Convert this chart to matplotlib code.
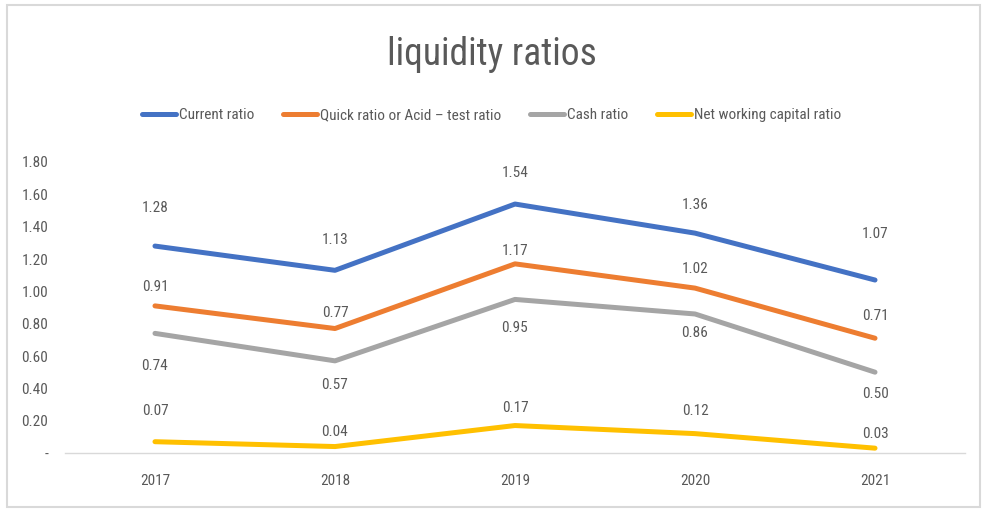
"""
Liquidity ratios line chart, Excel style.
"""

import matplotlib.pyplot as plt
from matplotlib.patches import Rectangle

plt.rcParams["font.family"] = [
    "Liberation Sans Narrow",
    "Roboto Condensed",
    "DejaVu Sans",
]

years = ["2017", "2018", "2019", "2020", "2021"]
current_ratio = [1.28, 1.13, 1.54, 1.36, 1.07]
quick_ratio = [0.91, 0.77, 1.17, 1.02, 0.71]
cash_ratio = [0.74, 0.57, 0.95, 0.86, 0.50]
nwc_ratio = [0.07, 0.04, 0.17, 0.12, 0.03]

# data label offsets in pixels (Excel labels were nudged by hand)
current_offsets = [38, 30, 31, 28, 46]
quick_offsets = [19, 16, 13, 19, 22]
cash_offsets = [-33, -24, -29, -19, -22]
nwc_offsets = [31, 15, 18, 23, 14]

series = [
    ("Current ratio", current_ratio, "#4472C4", current_offsets),
    ("Quick ratio or Acid \u2013 test ratio", quick_ratio, "#ED7D31",
     quick_offsets),
    ("Cash ratio", cash_ratio, "#A5A5A5", cash_offsets),
    ("Net working capital ratio", nwc_ratio, "#FFC000", nwc_offsets),
]

y_ticks = [0.0, 0.2, 0.4, 0.6, 0.8, 1.0, 1.2, 1.4, 1.6, 1.8]

TEXT_COLOR = "#595959"

fig = plt.figure(figsize=(9.83, 5.12), dpi=100)
ax = fig.add_axes([0.0661, 0.1152, 0.9156, 0.5684])

x = list(range(len(years)))

for name, values, color, offsets in series:
    ax.plot(x, values, color=color, linewidth=3.6, label=name,
            solid_capstyle="round", clip_on=False)
    for xi, v, off in zip(x, values, offsets):
        ax.annotate(f"{v:.2f}", (xi, v), xytext=(0, off),
                    textcoords="offset pixels", ha="center", va="center",
                    fontsize=11, color=TEXT_COLOR)

ax.set_xlim(-0.5, len(years) - 0.5)
ax.set_ylim(0, 1.8)
ax.set_xticks(x)
ax.set_xticklabels(years)
ax.set_yticks(y_ticks)
ax.set_yticklabels(["-" if t == 0 else f"{t:.2f}" for t in y_ticks])
ax.tick_params(axis="both", length=0, labelsize=11, labelcolor=TEXT_COLOR)
ax.tick_params(axis="y", pad=12)
ax.tick_params(axis="x", pad=15)

for side in ["top", "right", "left"]:
    ax.spines[side].set_visible(False)
ax.spines["bottom"].set_color("#D9D9D9")
ax.spines["bottom"].set_linewidth(1)

fig.text(0.5, 0.893, "liquidity ratios", ha="center", va="center",
         fontsize=27, color=TEXT_COLOR)

fig.legend(loc="center", bbox_to_anchor=(0.5, 0.775), ncol=4, frameon=False,
           fontsize=11, handlelength=2.2, handletextpad=0.2,
           columnspacing=1.9, labelcolor=TEXT_COLOR)

fig.patches.append(Rectangle((0.007, 0.01), 0.99, 0.98,
                             transform=fig.transFigure, fill=False,
                             edgecolor="#D9D9D9", linewidth=1.5))

fig.savefig("out.png", dpi=100)
